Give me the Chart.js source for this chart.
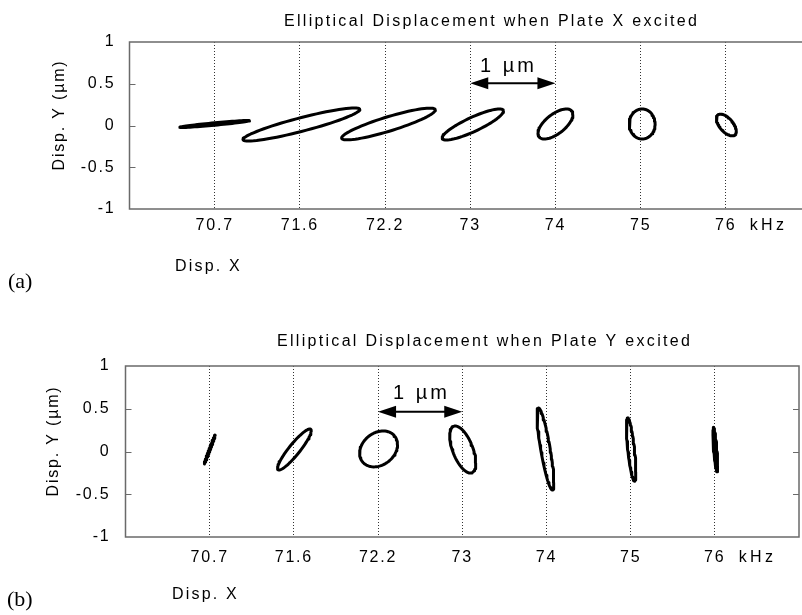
<!DOCTYPE html>
<html>
<head>
<meta charset="utf-8">
<script src="https://cdn.jsdelivr.net/npm/chart.js@4.4.1/dist/chart.umd.min.js"></script>
<style>
  html, body { margin: 0; padding: 0; background: #fff; overflow: hidden; }
  body { width: 802px; height: 615px; position: relative; }
  #wrapA { position: absolute; left: 0; top: 0; width: 814px; height: 300px; }
  #wrapB { position: absolute; left: 0; top: 300px; width: 802px; height: 315px; }
</style>
</head>
<body>
<div id="wrapA"><canvas id="chartA" width="814" height="300"></canvas></div>
<div id="wrapB"><canvas id="chartB" width="802" height="315"></canvas></div>
<script>
const freqLabels = ["70.7", "71.6", "72.2", "73", "74", "75", "76"];
const yTicks = [-1, -0.5, 0, 0.5, 1];

// Plate X excited: X / Y amplitude (um), phase of Y behind X (deg), centre offset (um)
const ampXA = [0.41, 0.686, 0.55, 0.36, 0.205, 0.152, 0.117];
const ampYA = [0.042, 0.198, 0.19, 0.186, 0.18, 0.18, 0.13];
const phaseA = [20, 25, 28, 30, 51, 90, 125];
const offXA = [0.0, 0.018, 0.04, 0.03, 0.0, 0.018, 0.006];
const offYA = [0.018, 0.012, 0.018, 0.012, 0.018, 0.018, 0.006];

// Plate Y excited
const ampXB = [0.065, 0.20, 0.225, 0.155, 0.1, 0.056, 0.028];
const ampYB = [0.17, 0.24, 0.21, 0.275, 0.48, 0.37, 0.26];
const phaseB = [5, 24, 76, 125, 145, 135, 140];
const offXB = [0.0, 0.006, 0.006, 0.006, -0.012, 0.006, 0.006];
const offYB = [0.023, 0.023, 0.03, 0.023, 0.03, 0.023, 0.023];

const FONT = "'Liberation Sans', Arial, sans-serif";

// trace of x = A cos t, y = B cos(t - phi) around the centre of one frequency slot
function ellipse(cx, cy, ax, ay, phaseDeg) {
  const phi = phaseDeg * Math.PI / 180;
  const pts = [];
  for (let d = 0; d <= 360; d += 5) {
    const t = d * Math.PI / 180;
    pts.push({ x: cx + ax * Math.cos(t), y: cy + ay * Math.cos(t - phi) });
  }
  return pts;
}

const panelDecor = {
  id: "panelDecor",
  beforeDraw(chart) {
    chart.ctx.letterSpacing = "1.8px";
  },
  afterDraw(chart, args, o) {
    const { ctx, chartArea: a, scales: { x, y } } = chart;
    ctx.save();

    // frame and inward ticks
    ctx.strokeStyle = "#6a6a6a";
    ctx.lineWidth = 1.5;
    ctx.strokeRect(a.left, a.top, a.right - a.left, a.bottom - a.top);
    ctx.lineWidth = 1;
    [0.5, 0, -0.5].forEach(v => {
      const py = Math.round(y.getPixelForValue(v)) + 0.5;
      ctx.beginPath();
      ctx.moveTo(a.left, py); ctx.lineTo(a.left + 6, py);
      ctx.moveTo(a.right, py); ctx.lineTo(a.right - 6, py);
      ctx.stroke();
    });

    // 1 um scale bar
    const x1 = x.getPixelForValue(o.barFrom);
    const x2 = x.getPixelForValue(o.barFrom + 1);
    const by = y.getPixelForValue(o.barY);
    ctx.strokeStyle = "#000";
    ctx.fillStyle = "#000";
    ctx.lineWidth = 2;
    ctx.beginPath();
    ctx.moveTo(x1 + 10, by); ctx.lineTo(x2 - 10, by);
    ctx.stroke();
    ctx.beginPath();
    ctx.moveTo(x1, by); ctx.lineTo(x1 + 18, by - 6); ctx.lineTo(x1 + 18, by + 6); ctx.closePath();
    ctx.moveTo(x2, by); ctx.lineTo(x2 - 18, by - 6); ctx.lineTo(x2 - 18, by + 6); ctx.closePath();
    ctx.fill();

    ctx.textBaseline = "alphabetic";
    ctx.textAlign = "left";
    ctx.font = "20px " + FONT;
    ctx.letterSpacing = "3px";
    ctx.fillText("1 \u00b5m", o.barTextX, o.barTextY);

    // titles and labels
    ctx.font = "16px " + FONT;
    ctx.letterSpacing = "2.3px";
    ctx.fillText(o.title, o.titleX, o.titleY);
    ctx.letterSpacing = "2.2px";
    ctx.fillText("Disp. X", o.xTitleX, o.xTitleY);

    ctx.letterSpacing = "3.3px";
    ctx.textBaseline = "middle";
    ctx.fillText("kHz", x.getPixelForValue(7) + 24, a.bottom + o.xTickPad + 9.6);

    ctx.save();
    ctx.letterSpacing = "1.8px";
    ctx.translate(o.yTitleX, (a.top + a.bottom) / 2 - 10.5);
    ctx.rotate(-Math.PI / 2);
    ctx.textAlign = "center";
    ctx.fillText("Disp. Y (\u00b5m)", 0, 0);
    ctx.restore();

    ctx.font = "22px 'Liberation Serif', 'Times New Roman', serif";
    ctx.letterSpacing = "0px";
    ctx.textBaseline = "alphabetic";
    ctx.fillText(o.tag, o.tagX, o.tagY);

    ctx.restore();
  }
};

function makeChart(id, cfg) {
  const datasets = freqLabels.map((f, i) => ({
    label: f + " kHz",
    data: ellipse(i + 1 + cfg.offX[i], cfg.offY[i], cfg.ampX[i], cfg.ampY[i], cfg.phase[i]),
    showLine: true,
    borderColor: "#000",
    borderWidth: 3,
    borderJoinStyle: "round",
    pointRadius: 0,
    fill: false
  }));

  return new Chart(document.getElementById(id), {
    type: "scatter",
    data: { datasets },
    options: {
      responsive: false,
      animation: false,
      layout: { padding: { top: cfg.top, left: 0, right: cfg.padRight, bottom: 0 } },
      plugins: {
        legend: { display: false },
        tooltip: { enabled: false },
        panelDecor: cfg
      },
      scales: {
        x: {
          type: "linear",
          min: 0,
          max: 8,
          afterBuildTicks: s => { s.ticks = freqLabels.map((f, i) => ({ value: i + 1 })); },
          afterFit: s => { s.height = cfg.xHeight; },
          ticks: {
            autoSkip: false,
            maxRotation: 0,
            padding: cfg.xTickPad,
            color: "#000",
            font: { family: FONT, size: 16 },
            callback: v => freqLabels[v - 1]
          },
          grid: { color: "#333", lineWidth: 1, drawTicks: false },
          border: { display: false, dash: [1, 2] }
        },
        y: {
          min: -1,
          max: 1,
          afterBuildTicks: s => { s.ticks = yTicks.map(v => ({ value: v })); },
          afterFit: s => { s.width = cfg.yWidth; },
          ticks: {
            padding: cfg.yTickPad,
            color: "#000",
            font: { family: FONT, size: 16 },
            callback: v => String(v)
          },
          grid: { display: false, drawTicks: false },
          border: { display: false }
        }
      }
    },
    plugins: [panelDecor]
  });
}

makeChart("chartA", {
  ampX: ampXA, ampY: ampYA, phase: phaseA, offX: offXA, offY: offYA,
  top: 42, padRight: 3, xHeight: 91, yWidth: 129.5, xTickPad: 7, yTickPad: 14,
  barFrom: 4, barY: 0.505, barTextX: 480, barTextY: 72,
  title: "Elliptical Displacement when Plate X excited", titleX: 284, titleY: 26,
  xTitleX: 175, xTitleY: 271, yTitleX: 60,
  tag: "(a)", tagX: 8, tagY: 288
});

makeChart("chartB", {
  ampX: ampXB, ampY: ampYB, phase: phaseB, offX: offXB, offY: offYB,
  top: 66, padRight: 3, xHeight: 78, yWidth: 125.5, xTickPad: 11, yTickPad: 15,
  barFrom: 3, barY: 0.466, barTextX: 393, barTextY: 99,
  title: "Elliptical Displacement when Plate Y excited", titleX: 277, titleY: 46,
  xTitleX: 172, xTitleY: 299, yTitleX: 54,
  tag: "(b)", tagX: 7, tagY: 306
});
</script>
</body>
</html>
